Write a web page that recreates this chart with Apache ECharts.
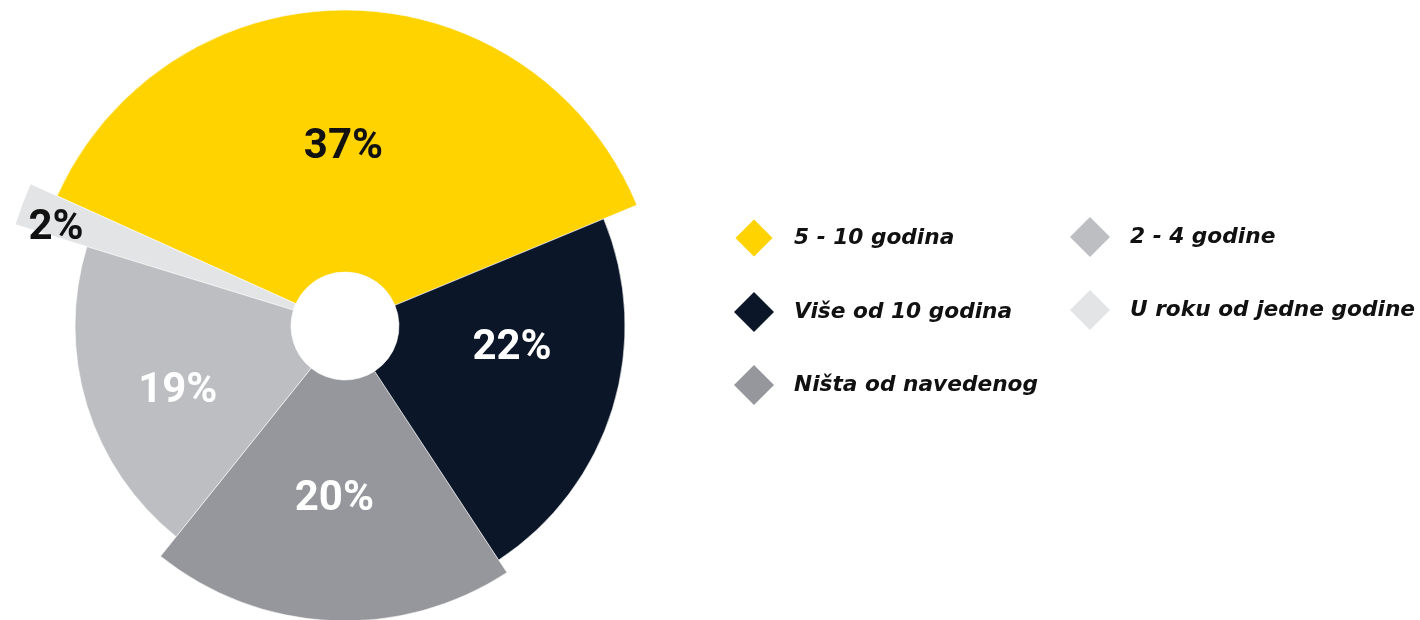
<!DOCTYPE html>
<html>
<head>
    <meta charset="utf-8">
    <title>Pie</title>
    <script src="https://cdn.jsdelivr.net/npm/echarts@6/dist/echarts.min.js"></script>
    <style>
        html, body { margin: 0; padding: 0; background: #fff; }
        #chart { width: 1420px; height: 620px; }
    </style>
</head>
<body>
<div id="chart"></div>
<script>
    // podaci
    var categories = ['5 - 10 godina', 'U roku od jedne godine', '2 - 4 godine', 'Ništa od navedenog', 'Više od 10 godina'];
    var values = [37, 2, 19, 20, 22];
    var labels = ['37%', '2%', '19%', '20%', '22%'];
    var legendLeft = ['5 - 10 godina', 'Više od 10 godina', 'Ništa od navedenog'];
    var legendRight = ['2 - 4 godine', 'U roku od jedne godine'];

    // izgled
    var colors = ['#FFD300', '#E3E4E6', '#BDBEC1', '#96979C', '#0B1628'];
    var labelColors = ['#111', '#111', '#fff', '#fff', '#fff'];
    var outerR = [316, 345, 270, 295, 280];
    var labelR = [175.5, 302, 176.5, 170.8, 165.5];
    var labelTurn = [1.4, 2.0, 4.2, -0.8, 9.5];
    var center = [345, 326];
    var innerR = 54;
    var startAngle = 22.5;

    var colorOf = function (name) {
        return colors[categories.indexOf(name)];
    };

    var series = [];
    for (var i = 0; i < values.length; i++) {
        // vidljivi isječak
        series.push({
            type: 'pie',
            silent: true,
            clockwise: false,
            startAngle: startAngle,
            center: center,
            radius: [innerR, outerR[i]],
            label: { show: false },
            labelLine: { show: false },
            data: values.map(function (v, j) {
                return {
                    name: categories[j],
                    value: v,
                    itemStyle: {
                        color: j === i ? colors[j] : 'transparent',
                        borderColor: j === i ? '#fff' : 'transparent',
                        borderWidth: j === i ? 0.6 : 0
                    }
                };
            })
        });
        // oznaka isječka
        series.push({
            type: 'pie',
            silent: true,
            clockwise: false,
            startAngle: startAngle + labelTurn[i],
            center: center,
            radius: [labelR[i] - 1, labelR[i] + 1],
            labelLine: { show: false },
            data: values.map(function (v, j) {
                return {
                    name: categories[j],
                    value: v,
                    itemStyle: { color: 'transparent' },
                    label: {
                        show: j === i,
                        position: 'inside',
                        rotate: 0,
                        formatter: labels[j],
                        color: labelColors[j],
                        fontFamily: 'Roboto',
                        fontWeight: 'bold',
                        fontSize: 42
                    }
                };
            })
        });
    }

    var legendBase = function (names, left) {
        return {
            orient: 'vertical',
            left: left,
            top: 217,
            padding: 0,
            icon: 'diamond',
            itemWidth: 40,
            itemHeight: 40,
            itemGap: 33,
            selectedMode: false,
            textStyle: {
                color: '#111',
                fontFamily: 'DejaVu Sans',
                fontStyle: 'italic',
                fontWeight: 'bold',
                fontSize: 21.7,
                padding: [0, 0, 0, 15]
            },
            data: names.map(function (n) {
                return { name: n, itemStyle: { color: colorOf(n) } };
            })
        };
    };

    var myChart = echarts.init(document.getElementById('chart'));
    myChart.setOption({
        animation: false,
        backgroundColor: '#fff',
        legend: [legendBase(legendLeft, 733), legendBase(legendRight, 1070)],
        series: series
    });
</script>
</body>
</html>
